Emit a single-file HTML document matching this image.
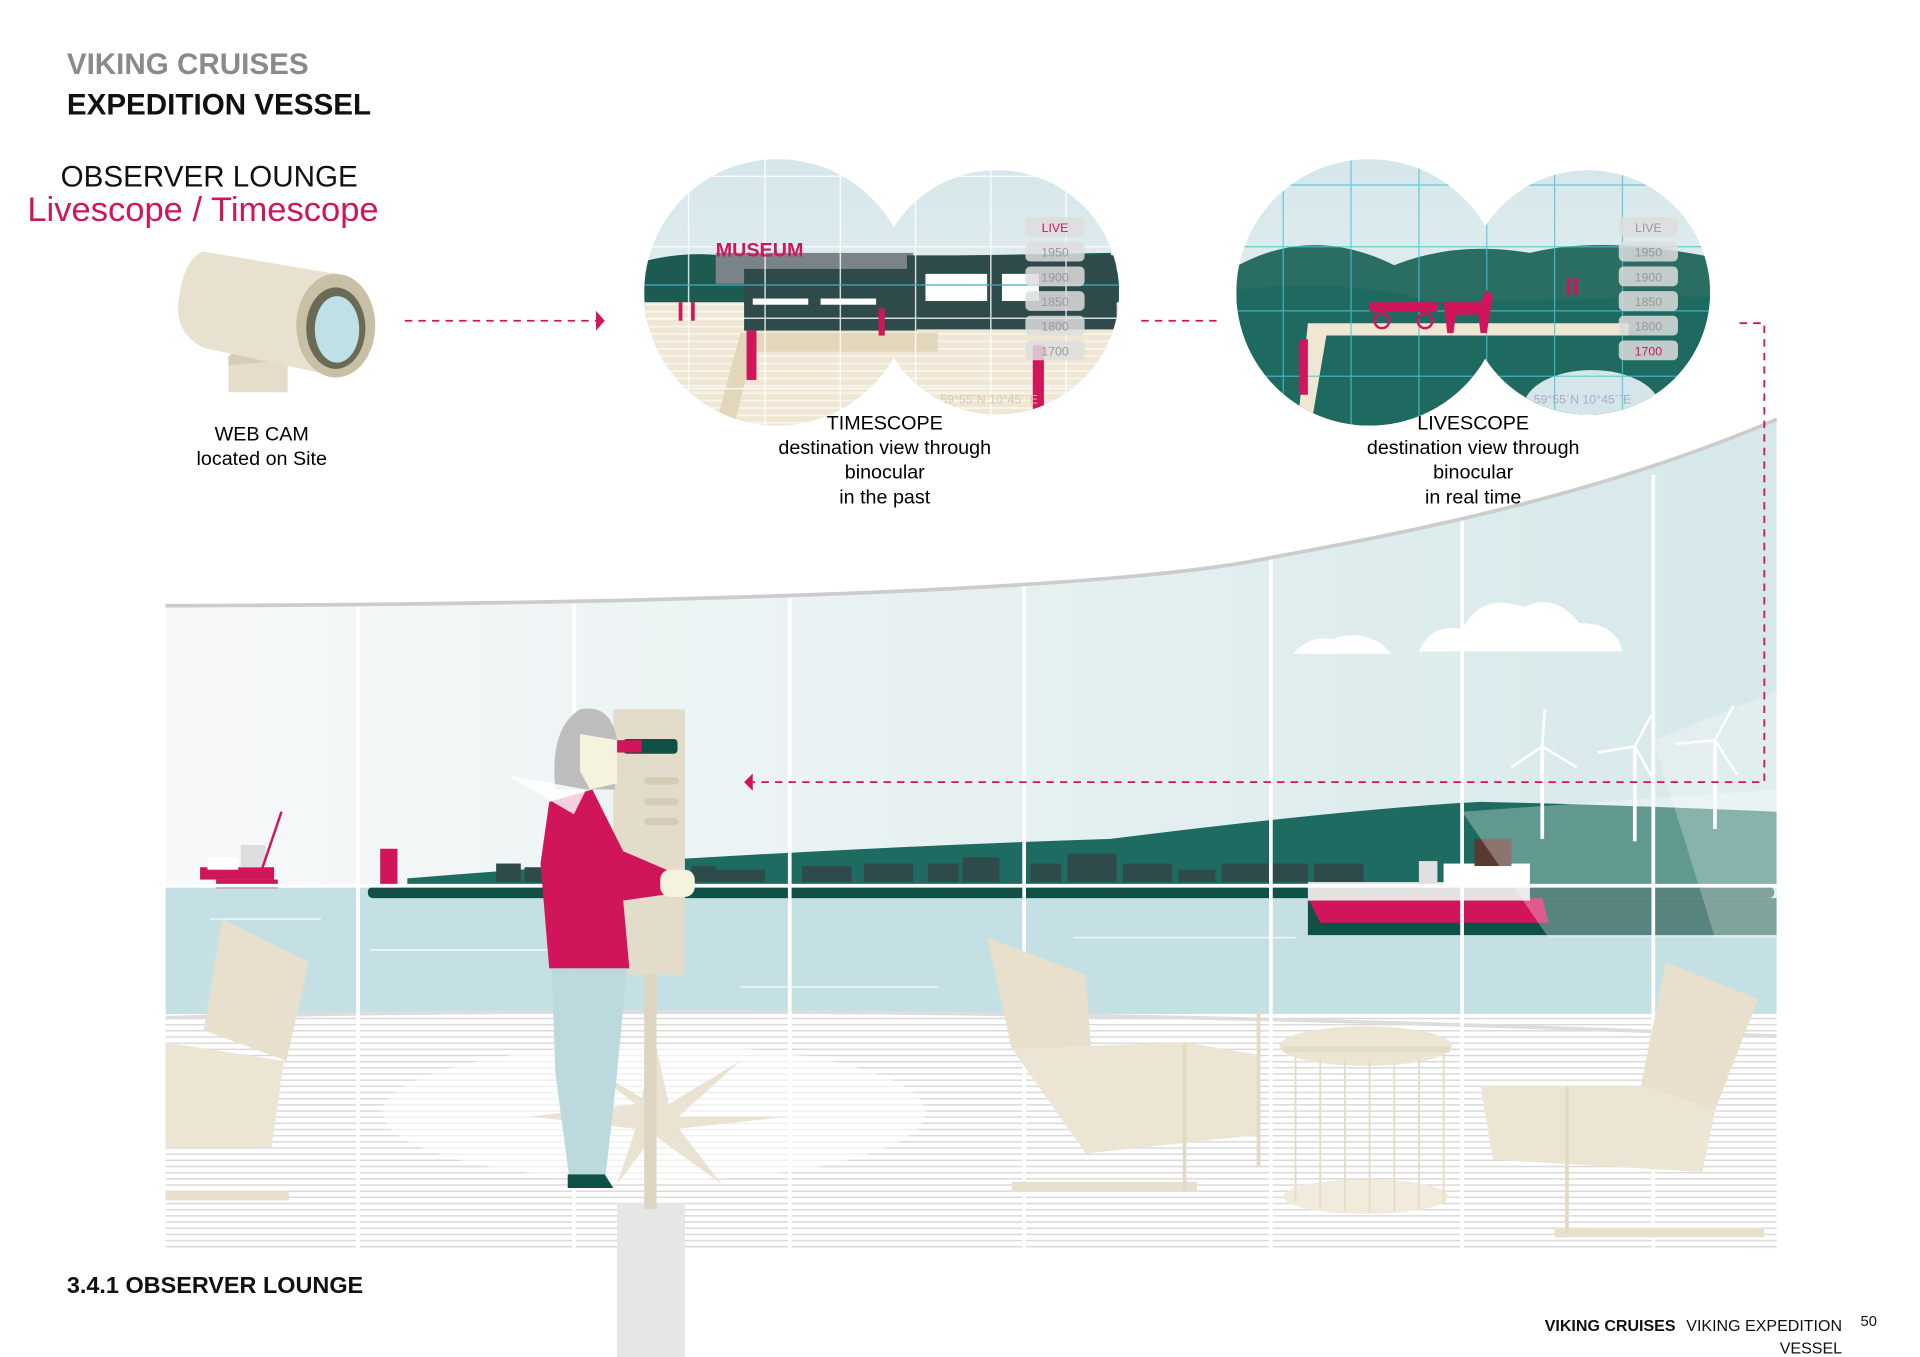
<!DOCTYPE html>
<html><head><meta charset="utf-8"><style>
html,body{margin:0;padding:0;background:#fff}
svg{display:block}
text{font-family:"Liberation Sans",Arial,sans-serif}
</style></head><body>
<svg width="1920" height="1357" viewBox="0 0 1556 1100" xmlns="http://www.w3.org/2000/svg">
<defs>
<linearGradient id="sky" x1="0" y1="0" x2="1" y2="0"><stop offset="0" stop-color="#f7f9f9"/><stop offset="1" stop-color="#d6e8ea"/></linearGradient>
<linearGradient id="bsky" x1="0" y1="0" x2="0" y2="1"><stop offset="0" stop-color="#d4e6ea"/><stop offset="1" stop-color="#eef4f3"/></linearGradient>
<pattern id="stripe" width="8" height="5" patternUnits="userSpaceOnUse"><rect width="8" height="5" fill="#fff"/><rect y="0" width="8" height="1.2" fill="#d9d9d9"/></pattern>
<pattern id="sand" width="8" height="6" patternUnits="userSpaceOnUse"><rect width="8" height="6" fill="#efe6d3"/><rect width="8" height="1.5" fill="#f9f5ec"/></pattern>
<clipPath id="b1"><circle cx="630" cy="237" r="108"/><circle cx="808" cy="237" r="99"/></clipPath>
<clipPath id="b2"><circle cx="1110" cy="237" r="108"/><circle cx="1287" cy="237" r="99"/></clipPath>
<clipPath id="win"><path d="M134 490 C500 490 900 480 1030 452 C1150 430 1300 400 1440 340 L1440 1015 L134 1015 Z"/></clipPath>
</defs>
<rect width="1556" height="1100" fill="#fff"/>
<!-- lounge -->
<g clip-path="url(#win)">
<rect x="134" y="330" width="1310" height="700" fill="url(#sky)"/>
<g fill="#fff"><path d="M1150 528 Q1160 505 1185 510 Q1200 480 1235 492 Q1260 480 1280 505 Q1310 505 1315 528Z"/><path d="M1048 530 Q1060 515 1080 518 Q1100 510 1120 522 L1128 530Z"/></g>
<path d="M330 712 Q600 690 900 680 Q1100 655 1200 650 Q1300 652 1440 658 L1440 760 L330 760Z" fill="#1e6c61"/>
<rect x="134" y="718" width="1310" height="120" fill="#c4e0e4"/>
<g stroke="#fff" stroke-width="1.2" opacity=".8"><line x1="170" y1="745" x2="260" y2="745"/><line x1="300" y1="770" x2="500" y2="770"/><line x1="870" y1="760" x2="1050" y2="760"/><line x1="600" y1="800" x2="760" y2="800"/></g>
<rect x="298" y="719" width="1140" height="9" rx="4" fill="#0f5047"/>
<rect x="1060" y="728" width="380" height="30" fill="#0f5047"/>
<g fill="#2f4a4a"><rect x="402" y="700" width="20" height="15"/><rect x="425" y="703" width="14" height="12"/><rect x="560" y="702" width="20" height="13"/><rect x="580" y="705" width="40" height="10"/><rect x="650" y="702" width="40" height="13"/><rect x="700" y="700" width="40" height="15"/><rect x="752" y="700" width="25" height="15"/><rect x="780" y="695" width="30" height="20"/><rect x="835" y="700" width="25" height="15"/><rect x="865" y="692" width="40" height="23"/><rect x="910" y="700" width="40" height="15"/><rect x="955" y="705" width="30" height="10"/><rect x="990" y="700" width="70" height="15"/><rect x="1065" y="700" width="40" height="15"/></g>
<path d="M1060 728 L1250 728 L1255 748 L1070 748Z" fill="#d0155a"/>
<rect x="1060" y="715" width="180" height="15" fill="#e2e2e2"/>
<rect x="1170" y="700" width="70" height="18" fill="#fff"/><rect x="1195" y="680" width="30" height="22" fill="#5a3a30"/><rect x="1150" y="698" width="15" height="18" fill="#e0e0e0"/>
<path d="M1185 658 L1440 640 L1440 760 L1255 760Z" fill="#fff" opacity=".3"/>
<path d="M1340 600 L1440 560 L1440 760 L1390 760Z" fill="#fff" opacity=".25"/>
<g stroke="#fff" stroke-width="3"><line x1="1250" y1="605" x2="1250" y2="680"/><line x1="1325" y1="605" x2="1325" y2="682"/><line x1="1390" y1="600" x2="1390" y2="672"/></g>
<g stroke="#fff" stroke-width="2"><line x1="1250" y1="605" x2="1252" y2="575"/><line x1="1250" y1="605" x2="1278" y2="622"/><line x1="1250" y1="605" x2="1225" y2="622"/><line x1="1325" y1="605" x2="1338" y2="580"/><line x1="1325" y1="605" x2="1295" y2="610"/><line x1="1325" y1="605" x2="1340" y2="632"/><line x1="1390" y1="600" x2="1405" y2="572"/><line x1="1390" y1="600" x2="1358" y2="603"/><line x1="1390" y1="600" x2="1408" y2="628"/></g>
<g fill="#d0155a"><rect x="308" y="688" width="14" height="32"/><rect x="162" y="703" width="60" height="10"/><rect x="175" y="713" width="50" height="7"/></g>
<rect x="168" y="695" width="25" height="10" fill="#fff"/><rect x="195" y="685" width="20" height="18" fill="#ddd"/>
<line x1="212" y1="705" x2="228" y2="658" stroke="#d0155a" stroke-width="2"/>
<rect x="134" y="822" width="1310" height="200" fill="url(#stripe)"/>
<path d="M134 825 Q700 810 1440 840" stroke="#ddd" stroke-width="3" fill="none"/>
<g stroke="#fff" stroke-width="3"><line x1="290" y1="490" x2="290" y2="1015"/><line x1="465" y1="490" x2="465" y2="1015"/><line x1="640" y1="485" x2="640" y2="1015"/><line x1="830" y1="470" x2="830" y2="1015"/><line x1="1030" y1="450" x2="1030" y2="1015"/><line x1="1185" y1="420" x2="1185" y2="1015"/><line x1="1340" y1="385" x2="1340" y2="1015"/><line x1="134" y1="718" x2="1440" y2="718"/></g>
<ellipse cx="530" cy="902" rx="220" ry="55" fill="#fff" opacity=".6"/>
<polygon points="530,840 542,895 600,860 550,905 640,905 550,915 585,960 530,920 500,960 515,915 430,905 515,895 470,860 520,890" fill="#e8e0cd" opacity=".9"/>
</g>
<path d="M134 491 C500 490 900 480 1030 452 C1150 430 1300 400 1440 340" stroke="#ccc" stroke-width="3" fill="none"/>
<text x="54" y="60" font-size="24" font-weight="bold" fill="#8a8a8a">VIKING CRUISES</text>
<text x="54" y="93" font-size="24" font-weight="bold" fill="#111">EXPEDITION VESSEL</text>
<text x="49" y="151" font-size="24" fill="#111">OBSERVER LOUNGE</text>
<text x="22" y="179" font-size="28" fill="#d0155a">Livescope / Timescope</text>
<!-- webcam -->
<rect x="185" y="288" width="48" height="30" fill="#e5dccb"/>
<path d="M185 290 Q200 270 232 285 L232 292 L185 296Z" fill="#d7ccb6"/>
<path d="M165 204 L272 222 L272 305 L165 282 Q140 270 145 240 Q150 208 165 204Z" fill="#e9e1cf"/>
<ellipse cx="272" cy="264" rx="32" ry="42" fill="#c9bfa4"/>
<ellipse cx="272" cy="266" rx="24" ry="33" fill="#6b6b55"/>
<ellipse cx="273" cy="267" rx="18" ry="27" fill="#bfe0e6"/>
<text x="212" y="357" font-size="16" text-anchor="middle">WEB CAM</text>
<text x="212" y="377" font-size="16" text-anchor="middle">located on Site</text>
<!-- arrows -->
<g stroke="#d0155a" stroke-width="1.5" stroke-dasharray="6 5" fill="none">
<line x1="328" y1="260" x2="483" y2="260"/>
<line x1="925" y1="260" x2="990" y2="260"/>
<polyline points="1410,262 1430,262 1430,634 610,634"/>
</g>
<polygon points="483,252 490,260 483,268" fill="#d0155a"/>
<polygon points="610,627 603,634 610,641" fill="#d0155a"/>
<!-- binocular 1 -->
<g clip-path="url(#b1)">
<rect x="510" y="120" width="410" height="240" fill="url(#bsky)"/>
<path d="M510 215 Q560 200 600 210 L900 205 L920 260 L510 260Z" fill="#1c5a52"/>
<rect x="510" y="245" width="410" height="120" fill="url(#sand)"/>
<rect x="580" y="205" width="160" height="25" fill="#7a8388"/>
<rect x="603" y="218" width="140" height="50" fill="#2f4a4a"/>
<rect x="735" y="207" width="170" height="60" fill="#2f4a4a"/>
<rect x="610" y="242" width="45" height="5" fill="#fff"/><rect x="665" y="242" width="45" height="5" fill="#fff"/>
<rect x="750" y="222" width="50" height="22" fill="#fff"/><rect x="812" y="222" width="30" height="22" fill="#fff"/>
<path d="M600 270 L760 270 L760 285 L610 285 L595 345 L580 345Z" fill="#e2d6bb"/>
<g stroke="#fff" stroke-width="1.2" opacity=".8"><line x1="510" y1="143" x2="920" y2="143"/><line x1="510" y1="200" x2="920" y2="200"/><line x1="510" y1="258" x2="920" y2="258"/><line x1="510" y1="315" x2="920" y2="315"/><line x1="558" y1="120" x2="558" y2="360"/><line x1="620" y1="120" x2="620" y2="360"/><line x1="681" y1="120" x2="681" y2="360"/><line x1="742" y1="120" x2="742" y2="360"/><line x1="803" y1="120" x2="803" y2="360"/><line x1="864" y1="120" x2="864" y2="360"/></g>
<line x1="510" y1="231" x2="920" y2="231" stroke="#3ab0c0" stroke-width="1"/>
<text x="580" y="208" font-size="16" font-weight="bold" fill="#d0155a">MUSEUM</text>
<g fill="#d0155a"><rect x="605" y="268" width="8" height="40"/><rect x="837" y="280" width="9" height="52"/><rect x="712" y="250" width="5" height="22"/><rect x="550" y="245" width="3" height="15"/><rect x="560" y="245" width="3" height="15"/></g>
<g fill="#ddd" opacity=".85"><rect x="831" y="176" width="48" height="16" rx="4"/><rect x="831" y="196" width="48" height="16" rx="4"/><rect x="831" y="216" width="48" height="16" rx="4"/><rect x="831" y="236" width="48" height="16" rx="4"/><rect x="831" y="256" width="48" height="16" rx="4"/><rect x="831" y="276" width="48" height="16" rx="4"/></g>
<g font-size="10" text-anchor="middle" fill="#999"><text x="855" y="188" fill="#d0155a">LIVE</text><text x="855" y="208">1950</text><text x="855" y="228">1900</text><text x="855" y="248">1850</text><text x="855" y="268">1800</text><text x="855" y="288">1700</text></g>
<text x="762" y="327" font-size="10" fill="#d6cbb2">59°55´N 10°45´´E</text>
</g>
<text x="717" y="348" font-size="16" text-anchor="middle">TIMESCOPE</text>
<text x="717" y="368" font-size="16" text-anchor="middle">destination view through</text>
<text x="717" y="388" font-size="16" text-anchor="middle">binocular</text>
<text x="717" y="408" font-size="16" text-anchor="middle">in the past</text>
<!-- binocular 2 -->
<g clip-path="url(#b2)">
<rect x="995" y="120" width="400" height="240" fill="url(#bsky)"/>
<path d="M995 220 Q1060 180 1130 215 Q1180 195 1240 205 Q1300 190 1395 210 L1395 360 L995 360Z" fill="#2a6e63"/>
<path d="M995 235 Q1100 225 1160 245 L1395 240 L1395 360 L995 360Z" fill="#1f6a60"/>
<path d="M1060 262 L1320 262 L1320 272 L1075 272 L1060 360 L1050 360Z" fill="#efe6d3"/>
<ellipse cx="1290" cy="330" rx="55" ry="30" fill="#d4e6ea"/>
<g stroke="#4ac4d2" stroke-width="1" opacity=".8"><line x1="995" y1="150" x2="1395" y2="150"/><line x1="995" y1="200" x2="1395" y2="200"/><line x1="995" y1="252" x2="1395" y2="252"/><line x1="995" y1="305" x2="1395" y2="305"/><line x1="1040" y1="120" x2="1040" y2="360"/><line x1="1095" y1="120" x2="1095" y2="360"/><line x1="1150" y1="120" x2="1150" y2="360"/><line x1="1205" y1="120" x2="1205" y2="360"/><line x1="1260" y1="120" x2="1260" y2="360"/><line x1="1315" y1="120" x2="1315" y2="360"/></g>
<g fill="#d0155a"><rect x="1110" y="245" width="55" height="8"/><circle cx="1120" cy="260" r="6" fill="none" stroke="#d0155a" stroke-width="2"/><circle cx="1155" cy="260" r="6" fill="none" stroke="#d0155a" stroke-width="2"/><path d="M1170 245 L1200 245 L1205 235 L1210 240 L1205 270 L1200 270 L1198 255 L1180 255 L1178 270 L1173 270Z"/><rect x="1053" y="275" width="7" height="45"/><rect x="1270" y="225" width="3" height="14"/><rect x="1276" y="225" width="3" height="14"/></g>
<g fill="#ddd" opacity=".85"><rect x="1312" y="176" width="48" height="16" rx="4"/><rect x="1312" y="196" width="48" height="16" rx="4"/><rect x="1312" y="216" width="48" height="16" rx="4"/><rect x="1312" y="236" width="48" height="16" rx="4"/><rect x="1312" y="256" width="48" height="16" rx="4"/><rect x="1312" y="276" width="48" height="16" rx="4"/></g>
<g font-size="10" text-anchor="middle" fill="#999"><text x="1336" y="188">LIVE</text><text x="1336" y="208">1950</text><text x="1336" y="228">1900</text><text x="1336" y="248">1850</text><text x="1336" y="268">1800</text><text x="1336" y="288" fill="#d0155a">1700</text></g>
<text x="1243" y="327" font-size="10" fill="#aac">59°55´N 10°45´´E</text>
</g>
<text x="1194" y="348" font-size="16" text-anchor="middle">LIVESCOPE</text>
<text x="1194" y="368" font-size="16" text-anchor="middle">destination view through</text>
<text x="1194" y="388" font-size="16" text-anchor="middle">binocular</text>
<text x="1194" y="408" font-size="16" text-anchor="middle">in real time</text>
<!-- pillar -->
<rect x="500" y="975" width="55" height="125" fill="#e6e6e6"/>
<rect x="522" y="780" width="10" height="200" fill="#ddd5c2"/>
<rect x="497" y="575" width="58" height="215" fill="#e4dccb"/>
<rect x="522" y="630" width="28" height="6" rx="3" fill="#d5ccb5"/><rect x="522" y="647" width="28" height="6" rx="3" fill="#d5ccb5"/><rect x="522" y="663" width="28" height="6" rx="3" fill="#d5ccb5"/>
<rect x="505" y="599" width="44" height="12" rx="3" fill="#0f5047"/><rect x="500" y="600" width="20" height="10" fill="#d0155a"/>
<!-- person -->
<path d="M450 640 Q445 590 470 575 Q495 570 500 600 L498 640Z" fill="#bdbdbd"/>
<path d="M470 595 L500 600 L500 635 L478 640 L470 625Z" fill="#f5f2de"/>
<path d="M445 650 L480 640 L505 690 L540 705 L540 725 L505 730 L510 785 L445 785 L438 700Z" fill="#d0155a"/>
<path d="M410 628 L475 640 L465 660 Z" fill="#fff" opacity=".8"/>
<rect x="535" y="705" width="28" height="22" rx="8" fill="#f5f2de"/>
<path d="M447 785 L508 785 L500 870 L490 960 L462 960 L450 870Z" fill="#bcdadd"/>
<path d="M460 952 L490 952 L497 963 L460 963Z" fill="#0f5047"/>
<!-- chairs -->
<g fill="#e8e0cc">
<path d="M180 745 L250 780 L232 860 L165 835Z"/>
<path d="M134 845 L230 860 L220 930 L134 930Z" fill="#ece5d4"/>
<rect x="134" y="965" width="100" height="8"/>
<path d="M800 760 L880 790 L885 860 L820 850Z"/>
<path d="M820 850 L960 845 L1020 855 L1020 920 L880 935Z" fill="#ece5d4"/>
<rect x="820" y="958" width="150" height="8"/>
<ellipse cx="1107" cy="848" rx="70" ry="16" fill="#ece5d4"/>
<rect x="1040" y="848" width="135" height="5" fill="#e5dcc6"/>
<ellipse cx="1107" cy="970" rx="67" ry="14" fill="#f1ebdd"/>
<path d="M1350 780 L1425 810 L1390 900 L1330 880Z"/>
<path d="M1200 880 L1330 880 L1390 900 L1380 950 L1210 940Z" fill="#ece5d4"/>
<rect x="1260" y="995" width="170" height="8"/>
</g>
<g stroke="#e3dac3" stroke-width="3" fill="none"><path d="M960 845 L960 965"/><path d="M1270 880 L1270 1000"/><path d="M1020 820 L1020 945"/></g>
<g stroke="#e5dcc6" stroke-width="1.5"><line x1="1050" y1="855" x2="1050" y2="975"/><line x1="1070" y1="858" x2="1070" y2="980"/><line x1="1090" y1="860" x2="1090" y2="982"/><line x1="1110" y1="860" x2="1110" y2="983"/><line x1="1130" y1="860" x2="1130" y2="982"/><line x1="1150" y1="858" x2="1150" y2="980"/><line x1="1170" y1="855" x2="1170" y2="975"/></g>
<text x="54" y="1048" font-size="19" font-weight="bold" fill="#111">3.4.1 OBSERVER LOUNGE</text>
<text x="1252" y="1079" font-size="13" font-weight="bold" fill="#111">VIKING CRUISES</text>
<text x="1493" y="1079" font-size="13" text-anchor="end" fill="#111">VIKING EXPEDITION</text>
<text x="1493" y="1097" font-size="13" text-anchor="end" fill="#111">VESSEL</text>
<text x="1508" y="1075" font-size="12" fill="#111">50</text>
</svg>
</body></html>
